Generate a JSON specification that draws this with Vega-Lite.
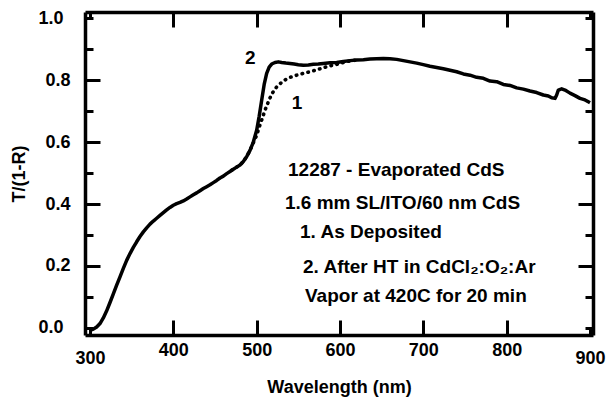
{
  "$schema": "https://vega.github.io/schema/vega-lite/v6.json",
  "width": 508,
  "height": 323,
  "autosize": {"type": "none"},
  "padding": {"left": 85, "top": 12, "right": 13, "bottom": 65},
  "background": "white",
  "config": {
    "view": {"stroke": null},
    "font": "Liberation Sans",
    "axis": {
      "labelFont": "Liberation Sans",
      "labelFontWeight": "bold",
      "labelFontSize": 18,
      "labelColor": "black",
      "titleFont": "Liberation Sans",
      "titleFontWeight": "bold",
      "titleFontSize": 18,
      "titleColor": "black",
      "domainColor": "black",
      "domainWidth": 3.5,
      "tickColor": "black",
      "tickWidth": 3,
      "grid": false
    }
  },
  "datasets": {
    "curves": [
      {"series": "2", "wl": 300, "v": -0.008},
      {"series": "2", "wl": 304, "v": -0.004},
      {"series": "2", "wl": 308, "v": 0.003},
      {"series": "2", "wl": 312, "v": 0.014},
      {"series": "2", "wl": 316, "v": 0.032},
      {"series": "2", "wl": 320, "v": 0.055},
      {"series": "2", "wl": 324, "v": 0.082},
      {"series": "2", "wl": 328, "v": 0.11},
      {"series": "2", "wl": 332, "v": 0.138},
      {"series": "2", "wl": 336, "v": 0.165},
      {"series": "2", "wl": 340, "v": 0.192},
      {"series": "2", "wl": 344, "v": 0.218},
      {"series": "2", "wl": 348, "v": 0.24},
      {"series": "2", "wl": 352, "v": 0.26},
      {"series": "2", "wl": 356, "v": 0.278},
      {"series": "2", "wl": 360, "v": 0.295},
      {"series": "2", "wl": 364, "v": 0.31},
      {"series": "2", "wl": 368, "v": 0.323},
      {"series": "2", "wl": 372, "v": 0.335},
      {"series": "2", "wl": 376, "v": 0.345},
      {"series": "2", "wl": 380, "v": 0.354},
      {"series": "2", "wl": 384, "v": 0.363},
      {"series": "2", "wl": 388, "v": 0.372},
      {"series": "2", "wl": 392, "v": 0.381},
      {"series": "2", "wl": 396, "v": 0.389},
      {"series": "2", "wl": 400, "v": 0.396},
      {"series": "2", "wl": 404, "v": 0.401},
      {"series": "2", "wl": 408, "v": 0.405},
      {"series": "2", "wl": 412, "v": 0.41},
      {"series": "2", "wl": 416, "v": 0.416},
      {"series": "2", "wl": 420, "v": 0.423},
      {"series": "2", "wl": 424, "v": 0.43},
      {"series": "2", "wl": 428, "v": 0.436},
      {"series": "2", "wl": 432, "v": 0.443},
      {"series": "2", "wl": 436, "v": 0.45},
      {"series": "2", "wl": 440, "v": 0.456},
      {"series": "2", "wl": 444, "v": 0.462},
      {"series": "2", "wl": 448, "v": 0.469},
      {"series": "2", "wl": 452, "v": 0.476},
      {"series": "2", "wl": 456, "v": 0.484},
      {"series": "2", "wl": 460, "v": 0.49},
      {"series": "2", "wl": 464, "v": 0.498},
      {"series": "2", "wl": 468, "v": 0.505},
      {"series": "2", "wl": 472, "v": 0.512},
      {"series": "2", "wl": 476, "v": 0.519},
      {"series": "2", "wl": 480, "v": 0.526},
      {"series": "2", "wl": 484, "v": 0.537},
      {"series": "2", "wl": 488, "v": 0.553},
      {"series": "2", "wl": 492, "v": 0.573},
      {"series": "2", "wl": 496, "v": 0.6},
      {"series": "2", "wl": 500, "v": 0.638},
      {"series": "2", "wl": 503, "v": 0.683},
      {"series": "2", "wl": 506, "v": 0.735},
      {"series": "2", "wl": 509, "v": 0.786},
      {"series": "2", "wl": 512, "v": 0.822},
      {"series": "2", "wl": 515, "v": 0.842},
      {"series": "2", "wl": 518, "v": 0.852},
      {"series": "2", "wl": 522, "v": 0.857},
      {"series": "2", "wl": 526, "v": 0.859},
      {"series": "2", "wl": 530, "v": 0.857},
      {"series": "2", "wl": 535, "v": 0.855},
      {"series": "2", "wl": 540, "v": 0.854},
      {"series": "2", "wl": 545, "v": 0.852},
      {"series": "2", "wl": 550, "v": 0.85},
      {"series": "2", "wl": 556, "v": 0.848},
      {"series": "2", "wl": 562, "v": 0.849},
      {"series": "2", "wl": 568, "v": 0.851},
      {"series": "2", "wl": 574, "v": 0.852},
      {"series": "2", "wl": 580, "v": 0.854},
      {"series": "2", "wl": 588, "v": 0.856},
      {"series": "2", "wl": 596, "v": 0.857},
      {"series": "2", "wl": 604, "v": 0.86},
      {"series": "2", "wl": 612, "v": 0.863},
      {"series": "2", "wl": 620, "v": 0.865},
      {"series": "2", "wl": 628, "v": 0.866},
      {"series": "2", "wl": 636, "v": 0.868},
      {"series": "2", "wl": 644, "v": 0.869},
      {"series": "2", "wl": 652, "v": 0.87},
      {"series": "2", "wl": 660, "v": 0.869},
      {"series": "2", "wl": 668, "v": 0.867},
      {"series": "2", "wl": 676, "v": 0.863},
      {"series": "2", "wl": 684, "v": 0.859},
      {"series": "2", "wl": 692, "v": 0.855},
      {"series": "2", "wl": 700, "v": 0.85},
      {"series": "2", "wl": 708, "v": 0.845},
      {"series": "2", "wl": 716, "v": 0.841},
      {"series": "2", "wl": 724, "v": 0.837},
      {"series": "2", "wl": 732, "v": 0.832},
      {"series": "2", "wl": 740, "v": 0.827},
      {"series": "2", "wl": 748, "v": 0.82},
      {"series": "2", "wl": 756, "v": 0.816},
      {"series": "2", "wl": 764, "v": 0.809},
      {"series": "2", "wl": 772, "v": 0.806},
      {"series": "2", "wl": 780, "v": 0.797},
      {"series": "2", "wl": 788, "v": 0.795},
      {"series": "2", "wl": 796, "v": 0.786},
      {"series": "2", "wl": 804, "v": 0.783},
      {"series": "2", "wl": 812, "v": 0.775},
      {"series": "2", "wl": 820, "v": 0.771},
      {"series": "2", "wl": 828, "v": 0.765},
      {"series": "2", "wl": 836, "v": 0.76},
      {"series": "2", "wl": 844, "v": 0.752},
      {"series": "2", "wl": 850, "v": 0.749},
      {"series": "2", "wl": 854, "v": 0.743},
      {"series": "2", "wl": 858, "v": 0.741},
      {"series": "2", "wl": 860, "v": 0.752},
      {"series": "2", "wl": 862, "v": 0.768},
      {"series": "2", "wl": 866, "v": 0.772},
      {"series": "2", "wl": 870, "v": 0.768},
      {"series": "2", "wl": 876, "v": 0.758},
      {"series": "2", "wl": 882, "v": 0.75},
      {"series": "2", "wl": 888, "v": 0.741},
      {"series": "2", "wl": 894, "v": 0.736},
      {"series": "2", "wl": 898, "v": 0.73},
      {"series": "2", "wl": 900, "v": 0.727},
      {"series": "1", "wl": 470, "v": 0.509},
      {"series": "1", "wl": 480, "v": 0.526},
      {"series": "1", "wl": 484, "v": 0.537},
      {"series": "1", "wl": 488, "v": 0.553},
      {"series": "1", "wl": 492, "v": 0.573},
      {"series": "1", "wl": 496, "v": 0.598},
      {"series": "1", "wl": 500, "v": 0.622},
      {"series": "1", "wl": 503, "v": 0.648},
      {"series": "1", "wl": 506, "v": 0.671},
      {"series": "1", "wl": 510, "v": 0.703},
      {"series": "1", "wl": 514, "v": 0.73},
      {"series": "1", "wl": 518, "v": 0.755},
      {"series": "1", "wl": 524, "v": 0.778},
      {"series": "1", "wl": 532, "v": 0.798},
      {"series": "1", "wl": 540, "v": 0.809},
      {"series": "1", "wl": 548, "v": 0.816},
      {"series": "1", "wl": 556, "v": 0.822},
      {"series": "1", "wl": 564, "v": 0.827},
      {"series": "1", "wl": 572, "v": 0.833},
      {"series": "1", "wl": 580, "v": 0.84},
      {"series": "1", "wl": 588, "v": 0.846},
      {"series": "1", "wl": 596, "v": 0.851},
      {"series": "1", "wl": 604, "v": 0.857},
      {"series": "1", "wl": 612, "v": 0.862},
      {"series": "1", "wl": 620, "v": 0.865}
    ],
    "notes": [
      {"wl": 486, "v": 0.871, "label": "2"},
      {"wl": 542, "v": 0.726, "label": "1"},
      {"wl": 537.6, "v": 0.51, "label": "12287 - Evaporated CdS"},
      {"wl": 534, "v": 0.403, "label": "1.6 mm SL/ITO/60 nm CdS"},
      {"wl": 552, "v": 0.31, "label": "1. As Deposited"},
      {"wl": 555.6, "v": 0.197, "label": "2. After HT in CdCl₂:O₂:Ar"},
      {"wl": 558, "v": 0.103, "label": "Vapor at 420C for 20 min"}
    ]
  },
  "resolve": {"axis": {"x": "independent", "y": "independent"}},
  "layer": [
    {
      "data": {"name": "curves"},
      "transform": [{"filter": "datum.series == '2'"}],
      "mark": {"type": "line", "color": "black", "strokeWidth": 3.5, "strokeJoin": "round"},
      "encoding": {
        "x": {
          "field": "wl", "type": "quantitative",
          "scale": {"domain": [294, 903.6], "nice": false, "zero": false},
          "axis": {
            "orient": "bottom",
            "title": "Wavelength (nm)",
            "values": [300, 400, 500, 600, 700, 800, 900],
            "format": "d",
            "tickSize": {"condition": {"test": "datum.value == 300 || datum.value == 900", "value": -7}, "value": -15},
            "labelPadding": 21,
            "titlePadding": 11
          }
        },
        "y": {
          "field": "v", "type": "quantitative",
          "scale": {"domain": [-0.023, 1.02], "nice": false, "zero": false},
          "axis": {
            "orient": "left",
            "title": "T/(1-R)",
            "values": [0, 0.1, 0.2, 0.3, 0.4, 0.5, 0.6, 0.7, 0.8, 0.9, 1.0],
            "labelExpr": "round(datum.value*10) % 2 == 0 ? format(datum.value, '.1f') : ''",
            "tickSize": {"condition": {"test": "round(datum.value*10) % 2 == 1 || datum.value == 0 || datum.value == 1", "value": -8}, "value": -15},
            "labelPadding": 30,
            "titlePadding": 9
          }
        }
      }
    },
    {
      "data": {"name": "curves"},
      "transform": [{"filter": "datum.series == '1'"}],
      "mark": {"type": "line", "color": "black", "strokeWidth": 3.6, "strokeDash": [0.5, 5.5], "strokeCap": "round"},
      "encoding": {
        "x": {
          "field": "wl", "type": "quantitative",
          "axis": {
            "orient": "top",
            "title": null,
            "labels": false,
            "values": [300, 400, 500, 600, 700, 800, 900],
            "tickSize": {"condition": {"test": "datum.value == 300 || datum.value == 900", "value": -7}, "value": -15}
          }
        },
        "y": {
          "field": "v", "type": "quantitative",
          "axis": {
            "orient": "right",
            "title": null,
            "labels": false,
            "values": [0, 0.1, 0.2, 0.3, 0.4, 0.5, 0.6, 0.7, 0.8, 0.9, 1.0],
            "tickSize": {"condition": {"test": "round(datum.value*10) % 2 == 1 || datum.value == 0 || datum.value == 1", "value": -8}, "value": -15}
          }
        }
      }
    },
    {
      "data": {"name": "notes"},
      "mark": {"type": "text", "align": "left", "baseline": "middle", "font": "Liberation Sans", "fontWeight": "bold", "fontSize": 19, "color": "black"},
      "encoding": {
        "x": {"field": "wl", "type": "quantitative", "axis": null},
        "y": {"field": "v", "type": "quantitative", "axis": null},
        "text": {"field": "label"}
      }
    }
  ]
}
